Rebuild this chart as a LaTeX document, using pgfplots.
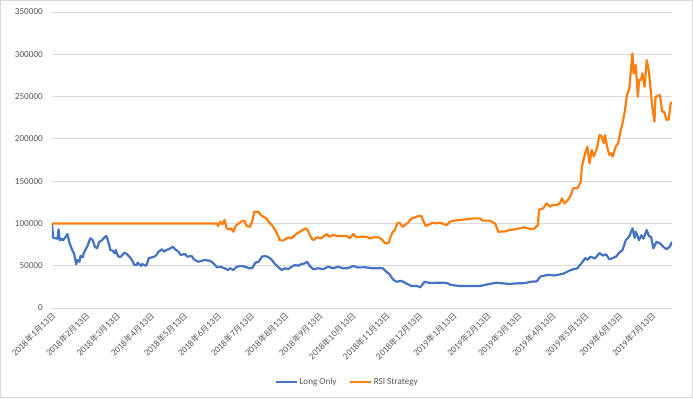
\documentclass[border=0pt]{standalone}
\usepackage{fontspec}
\setmainfont{Carlito}
\newfontfamily\cjk[Scale=0.9]{Noto Sans CJK SC}
\usepackage{pgfplots}
\pgfplotsset{compat=1.18}
\definecolor{lo}{HTML}{4472C4}
\definecolor{rsi}{HTML}{FF7F0E}
\definecolor{gridc}{HTML}{D9D9D9}
\definecolor{txt}{HTML}{595959}
\newcommand\dt[3]{#1{\cjk 年}#2{\cjk 月}#3{\cjk 日}}
\begin{document}
\begin{tikzpicture}[x=1bp,y=1bp]
\useasboundingbox (-52,-90) rectangle (641,308);
\draw[gridc, line width=0.75bp] (-51.6,-89.6) rectangle (640.6,307.6);
\begin{axis}[
  at={(0,0)}, anchor=south west,
  scale only axis, width=620bp, height=296bp,
  xmin=0, xmax=564, ymin=0, ymax=350000,
  ytick={0,50000,...,350000},
  xtick={0,31,59,90,120,151,181,212,243,273,304,334,365,396,424,455,485,516,546},
  xticklabels={\dt{2018}{1}{13},\dt{2018}{2}{13},\dt{2018}{3}{13},\dt{2018}{4}{13},\dt{2018}{5}{13},\dt{2018}{6}{13},\dt{2018}{7}{13},\dt{2018}{8}{13},\dt{2018}{9}{13},\dt{2018}{10}{13},\dt{2018}{11}{13},\dt{2018}{12}{13},\dt{2019}{1}{13},\dt{2019}{2}{13},\dt{2019}{3}{13},\dt{2019}{4}{13},\dt{2019}{5}{13},\dt{2019}{6}{13},\dt{2019}{7}{13}},
  scaled y ticks=false,
  yticklabel style={/pgf/number format/fixed, /pgf/number format/1000 sep={}, /pgf/number format/assume math mode=true, anchor=east, inner sep=0pt, xshift=-9bp},
  xticklabel style={xshift=2bp, yshift=-6bp, rotate=45, anchor=east, inner sep=0pt},
  tick label style={font=\fontsize{9.2}{11}\selectfont, text=txt},
  major tick length=0pt,
  axis line style={draw=none},
  ymajorgrids, grid style={gridc, line width=0.75bp},
  legend columns=2,
  legend style={at={(0.476,-0.25)}, anchor=center, draw=none, fill=none, font=\fontsize{9.2}{11}\selectfont, text=txt, /tikz/every even column/.append style={column sep=10bp}},
  legend image code/.code={\draw[#1] (0bp,0bp) -- (21bp,0bp);},
  every axis plot/.append style={line width=2.2bp, line join=round, mark=none},
]
\addplot[lo] coordinates {
(0,100000)(1,83000)(5,82000)(6,93000)(7,80000)(9,82000)(10,80000)(13,85000)(14,87500)(16,76500)
(19,66600)(20,64700)(22,51700)(23,56800)(25,54700)(26,61500)(28,60000)(29,65400)(32,72500)(34,79600)
(35,82400)(37,80400)(39,72500)(41,70600)(43,78400)(45,79600)(47,82400)(49,85100)(50,83600)(52,74500)
(53,68600)(55,67800)(57,64700)(58,68600)(60,61500)(62,60000)(64,62700)(66,65400)(68,63900)(71,60000)
(73,56000)(75,50800)(77,50800)(78,53600)(81,49700)(82,52000)(85,50000)(86,50800)(88,58800)(91,60000)
(93,60700)(95,62700)(97,66600)(100,69400)(102,66600)(104,68600)(107,70000)(110,72500)(112,69400)(115,66600)
(117,62700)(121,63900)(123,60700)(127,61500)(129,57600)(133,54700)(136,55700)(139,56800)(144,55700)(147,52800)
(150,48100)(153,48800)(157,47000)(160,45000)(162,47000)(165,45000)(168,48800)(172,49700)(176,48800)(179,47000)
(182,47000)(185,53600)(188,54700)(191,60700)(194,61500)(197,60000)(200,56800)(203,51800)(207,47000)(209,45000)
(212,47000)(215,46000)(218,48800)(221,50800)(224,50000)(227,52000)(230,52800)(232,54700)(235,48800)(238,45800)
(242,47000)(247,46000)(251,48800)(256,47000)(260,48800)(265,47000)(269,47000)(274,49700)(278,48000)(285,48100)
(291,47000)(297,47000)(301,47000)(304,43000)(307,40000)(310,34000)(313,31100)(318,32000)(322,29200)(327,26000)
(332,26000)(335,24500)(339,31100)(344,29500)(350,29900)(356,29900)(360,29200)(363,27200)(371,26000)(380,26000)
(389,26000)(398,28400)(404,29900)(410,29200)(416,28400)(421,29000)(430,29500)(436,31100)(441,31500)(444,37000)
(450,39000)(453,39000)(457,38500)(465,40500)(472,45000)(478,47000)(482,53600)(485,59000)(487,57000)(490,60700)
(494,58500)(498,65000)(501,62000)(504,63500)(507,57600)(510,59000)(513,60700)(516,65400)(519,68600)(522,80400)
(525,84300)(528,94200)(530,83000)(531,90200)(534,80400)(536,86000)(538,82000)(541,92200)(543,85000)(545,84000)
(547,70600)(550,78400)(553,76500)(556,72500)(559,69400)(562,72500)(564,78400)
};
\addlegendentry{Long Only}
\addplot[rsi] coordinates {
(0,100000)(150,100000)(151,97000)(153,102000)(155,99000)(157,104000)(159,94200)(161,93000)(163,94200)(165,90200)
(167,97000)(169,99300)(172,102000)(175,103300)(177,97000)(180,96000)(182,102000)(184,113800)(188,113800)(189,111000)
(192,108000)(195,106000)(197,102000)(200,98000)(203,92200)(206,84300)(207,80400)(210,79600)(213,82000)(215,83600)
(218,82400)(221,86300)(224,89000)(228,92200)(231,94200)(233,91000)(236,82400)(238,80400)(241,83600)(245,82400)
(250,87500)(252,84300)(256,86300)(260,85100)(265,85100)(268,85100)(271,82400)(274,87500)(277,83600)(281,84300)
(286,84300)(289,82400)(293,83600)(297,83600)(300,81200)(303,76500)(306,76500)(308,84300)(310,90000)(312,92200)
(314,100000)(316,101000)(319,96000)(321,98000)(324,101000)(327,106000)(330,107000)(333,108800)(336,108800)(338,102000)
(340,97000)(344,99300)(346,101000)(349,100000)(353,101000)(356,99300)(359,98000)(362,102000)(366,103300)(371,104000)
(377,104900)(383,106000)(389,106000)(392,103300)(398,103300)(403,100000)(406,90200)(412,90500)(416,92200)(421,93000)
(425,94200)(430,95400)(435,93500)(438,93500)(442,98000)(443,115900)(447,118000)(450,123800)(453,119800)(456,122000)
(459,121800)(462,123800)(464,129700)(466,123800)(469,127000)(472,133600)(474,141500)(478,141500)(481,149300)(482,167000)
(485,182900)(487,190700)(489,171000)(491,186800)(493,179000)(496,190700)(498,204500)(500,203000)(502,194700)(503,204500)
(505,190700)(507,181000)(509,183000)(510,179000)(513,191500)(515,194700)(517,208500)(519,218400)(521,232200)(523,251900)
(525,257800)(528,301000)(529,277400)(531,287300)(533,249800)(534,269600)(536,270000)(537,277400)(539,261700)(541,293200)
(543,279400)(544,265700)(546,238000)(548,220300)(549,249800)(553,251900)(555,232200)(557,232000)(559,222300)(561,223000)
(563,244000)
};
\addlegendentry{RSI Strategy}
\end{axis}
\end{tikzpicture}
\end{document}
